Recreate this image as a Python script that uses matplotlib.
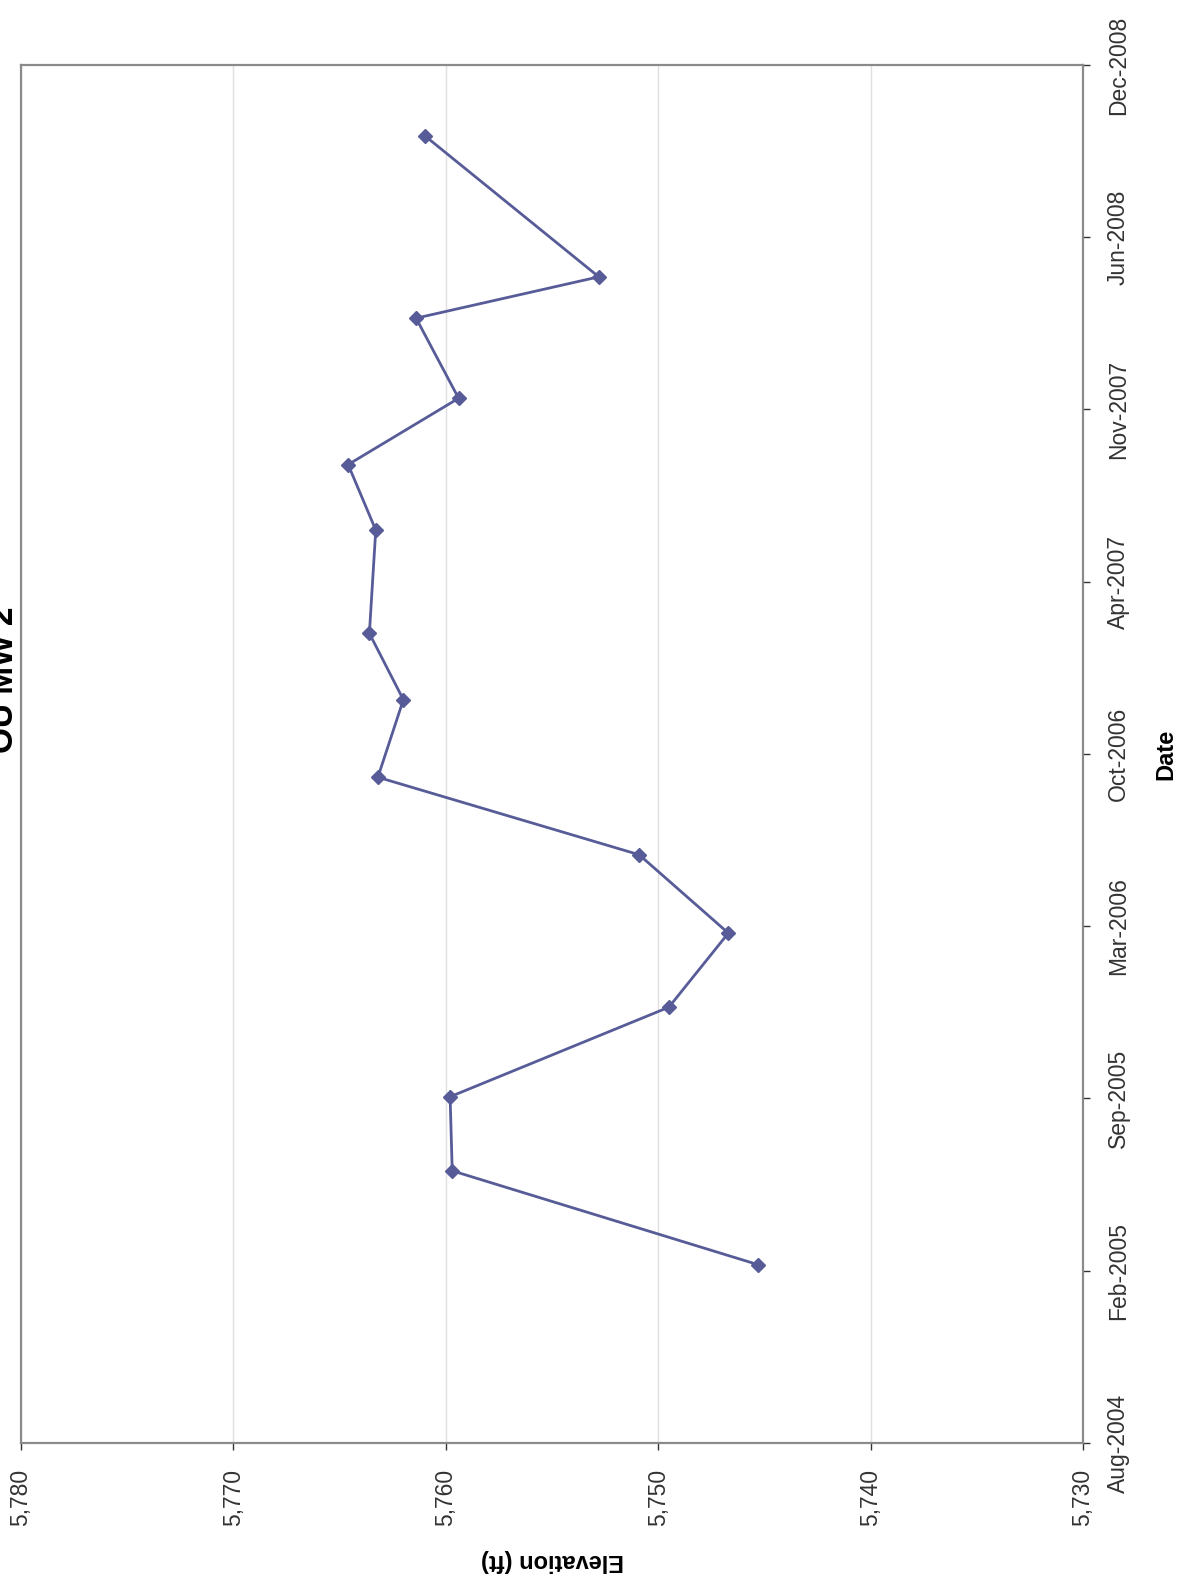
import datetime as dt
import matplotlib
matplotlib.use('Agg')
import matplotlib.pyplot as plt
import matplotlib.dates as mdates
import matplotlib.ticker as mticker

plt.rcParams['font.family'] = ['Liberation Sans', 'DejaVu Sans']

# water level readings
dates = [
    dt.date(2005, 2, 26), dt.date(2005, 6, 15), dt.date(2005, 9, 9),
    dt.date(2005, 12, 22), dt.date(2006, 3, 18), dt.date(2006, 6, 17),
    dt.date(2006, 9, 15), dt.date(2006, 12, 14), dt.date(2007, 3, 1),
    dt.date(2007, 6, 29), dt.date(2007, 9, 13), dt.date(2007, 11, 29),
    dt.date(2008, 3, 1), dt.date(2008, 4, 18), dt.date(2008, 9, 29),
]
elevation = [
    5745.3, 5759.7, 5759.8, 5749.5, 5746.7, 5750.9, 5763.2, 5762.0,
    5763.6, 5763.3, 5764.6, 5759.4, 5761.4, 5752.8, 5761.0,
]

ELEV_TICKS = [5730, 5740, 5750, 5760, 5770, 5780]
DATE_START = dt.date(2004, 8, 3)
DATE_STEP = 200  # days between date ticks
N_DATE_TICKS = 9
TITLE = 'OU MW 2'

LINE_COLOR = '#575c98'


def main():
    fig = plt.figure(figsize=(11.82, 15.77), dpi=100)
    ax = fig.add_axes([0.0178, 0.085, 0.8985, 0.8738])

    # page is turned sideways: elevation runs across, time runs up
    ax.plot(elevation, dates, color=LINE_COLOR, lw=2, marker='D', ms=7.5,
            mec=LINE_COLOR, mfc=LINE_COLOR)

    ax.set_xlim(ELEV_TICKS[-1], ELEV_TICKS[0])
    ax.set_xticks(ELEV_TICKS)
    ax.xaxis.set_major_formatter(mticker.FuncFormatter(lambda v, p: f'{v:,.0f}'))
    ax.tick_params(axis='x', labelrotation=90, labelsize=16.5, colors='#333333',
                   length=5, width=1, pad=14)
    for lbl in ax.get_xticklabels():
        lbl.set_va('top')

    date_ticks = [DATE_START + dt.timedelta(days=DATE_STEP * i) for i in range(N_DATE_TICKS)]
    ax.set_ylim(date_ticks[0], date_ticks[-1])
    ax.set_yticks(date_ticks)
    ax.yaxis.set_major_formatter(mdates.DateFormatter('%b-%Y'))
    ax.yaxis.tick_right()
    ax.yaxis.set_label_position('right')
    ax.tick_params(axis='y', labelsize=16.5, colors='#333333', length=5, width=1, pad=12)
    for lbl in ax.get_yticklabels():
        lbl.set_rotation(90)
        lbl.set_va('center')
        lbl.set_ha('left')

    ax.grid(axis='x', color='#e0e0e0', lw=1)
    ax.set_axisbelow(True)
    for s in ax.spines.values():
        s.set_color('#8a8a8a')
        s.set_linewidth(1.6)

    ax.set_ylabel('Date', fontsize=17, fontweight='bold', rotation=90, labelpad=18)
    ax.set_xlabel('Elevation (ft)', fontsize=17, fontweight='bold', rotation=180,
                  labelpad=16)

    fig.text(0.004, 0.569, TITLE, rotation=90, fontsize=24, fontweight='bold',
             ha='center', va='center')

    fig.savefig('out.png', dpi=100, facecolor='white')


if __name__ == '__main__':
    main()
